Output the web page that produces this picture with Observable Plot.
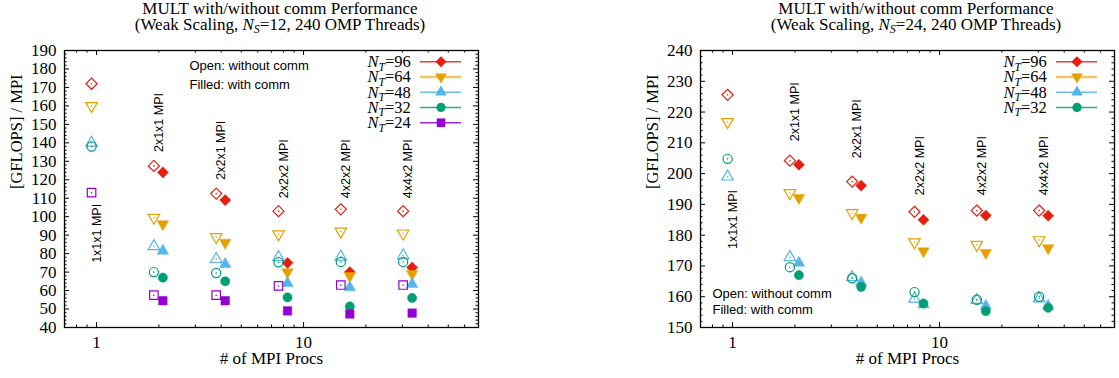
<!DOCTYPE html>
<html>
<head>
<meta charset="utf-8">
<script src="https://cdn.jsdelivr.net/npm/d3@7"></script>
<script src="https://cdn.jsdelivr.net/npm/@observablehq/plot@0.6"></script>
<style>
  body { margin: 0; background: #fff; }
  #wrap { position: relative; width: 1119px; height: 378px; overflow: hidden; }
  .panel { position: absolute; top: 0; width: 483px; }
  .title { height: 34px; font-family: "Liberation Serif", serif; font-size: 17px; line-height: 16px; padding-top: 1px;
           text-align: center; padding-left: 77px; box-sizing: border-box; white-space: nowrap; color: #000; }
  .sub { font-size: 12px; font-style: italic; position: relative; top: 3px; line-height: 0; }
  svg { display: block; }
</style>
</head>
<body>
<div id="wrap"></div>
<script>
// ---------------- data ----------------
const procs = [1, 2, 4, 8, 16, 32];
const seriesNames = ["96", "64", "48", "32", "24"];
const seriesColors = ["#e51e10", "#e69f00", "#56b4e9", "#009e73", "#9400d3"];

// N_S = 12 (left)
const ns12Open96   = [172, 127.5, 112.5, 103, 104, 103];
const ns12Filled96 = [null, 124, 109, 75, 70, 72.5];
const ns12Open64   = [160, 99.5, 89, 90.5, 92, 91];
const ns12Filled64 = [null, 96, 86, 70, 68, 69];
const ns12Open48   = [140, 84, 77, 78, 78.3, 79];
const ns12Filled48 = [null, 81.5, 74.3, 64, 61.7, 63.5];
const ns12Open32   = [138, 70, 69.5, 75.3, 75.5, 75.5];
const ns12Filled32 = [null, 67, 65, 56.3, 51.4, 56];
const ns12Open24   = [113, 57.5, 57.5, 62.5, 63, 63];
const ns12Filled24 = [null, 54.5, 54.5, 49, 47.3, 47.8];

// N_S = 24 (right)
const ns24Open96   = [225.6, 204.2, 197.4, 187.6, 188, 188];
const ns24Filled96 = [null, 202.9, 196.1, 185, 186.4, 186.3];
const ns24Open64   = [216.8, 193.7, 187.2, 177.7, 176.9, 178.4];
const ns24Filled64 = [null, 192.1, 185.7, 174.8, 174.3, 175.8];
const ns24Open48   = [199, 172.8, 166.3, 159.3, 158.9, 159.4];
const ns24Filled48 = [null, 171, 164.6, 157.4, 157, 157];
const ns24Open32   = [204.8, 169.6, 166, 161.5, 159, 160];
const ns24Filled32 = [null, 167, 163.2, 157.8, 155.3, 156.4];

const mpiLabels = ["1x1x1 MPI", "2x1x1 MPI", "2x2x1 MPI", "2x2x2 MPI", "4x2x2 MPI", "4x4x2 MPI"];
const ns12LabelY = [75, 135, 120, 110, 110, 110];
const ns24LabelY = [175.5, 210.5, 205, 193, 193, 193];

const xTicks = [1, 10];
const xMinor = [0.8, 0.9, 2, 3, 4, 5, 6, 7, 8, 9, 20, 30, 40, 50, 60, 70];
const ns12YTicks = d3.range(40, 191, 10);
const ns24YTicks = d3.range(150, 241, 10);

// ---------------- drawing ----------------
const openSym   = ["diamond2", "triangle2", "triangle2", "circle", "square2"];
const filledSym = ["diamond2", "triangle2", "triangle2", "circle", "square"];
const symRot    = [0, 180, 0, 0, 0];
const symR      = [5, 5.5, 5.5, 4.6, 5.4];
const filledR   = [5, 5.5, 5.5, 4.6, 4.8];

const W = 483, H = 344, mL = 64, mR = 5, mT = 16, mB = 51;
const FW = W - mL - mR, FH = H - mT - mB;
const serif = "Liberation Serif, Times New Roman, serif";
const sans = "Liberation Sans, Arial, sans-serif";

function panel(left, ns, yDomain, yTicks, openArr, filledArr, labelY, notePos) {
  const div = document.createElement("div");
  div.className = "panel";
  div.style.left = left + "px";
  div.innerHTML = `<div class="title">MULT with/without comm Performance<br>(Weak Scaling, <i>N</i><span class="sub">S</span>=${ns}, 240 OMP Threads)</div>`;
  document.getElementById("wrap").appendChild(div);

  const yMinor = d3.range(yDomain[0], yDomain[1] + 0.001, 2).filter(v => v % 10 !== 0);
  const marks = [];
  // inward ticks (all four sides)
  marks.push(Plot.tickY(yTicks, {y: d => d, insetRight: FW - 5, stroke: "#000"}));
  marks.push(Plot.tickY(yTicks, {y: d => d, insetLeft: FW - 5, stroke: "#000"}));
  marks.push(Plot.tickY(yMinor, {y: d => d, insetRight: FW - 2.5, stroke: "#000"}));
  marks.push(Plot.tickY(yMinor, {y: d => d, insetLeft: FW - 2.5, stroke: "#000"}));
  marks.push(Plot.tickX(xTicks, {x: d => d, insetTop: FH - 5, stroke: "#000"}));
  marks.push(Plot.tickX(xTicks, {x: d => d, insetBottom: FH - 5, stroke: "#000"}));
  marks.push(Plot.tickX(xMinor, {x: d => d, insetTop: FH - 2.5, stroke: "#000"}));
  marks.push(Plot.tickX(xMinor, {x: d => d, insetBottom: FH - 2.5, stroke: "#000"}));
  marks.push(Plot.frame({stroke: "#000", strokeWidth: 1.3}));
  marks.push(Plot.axisY({ticks: yTicks, tickSize: 0, tickPadding: 8, label: null, fontFamily: serif, fontSize: 17}));
  marks.push(Plot.axisX({ticks: xTicks, tickFormat: d => String(d), tickSize: 0, tickPadding: 8, label: null, fontFamily: serif, fontSize: 17}));
  marks.push(Plot.text(["[GFLOPS] / MPI"], {frameAnchor: "left", dx: -48, rotate: -90, fontFamily: serif, fontSize: 16.5, fill: "#000"}));
  marks.push(Plot.text(["# of MPI Procs"], {frameAnchor: "bottom", dy: 36.5, fontFamily: serif, fontSize: 17, fill: "#000"}));

  // rotated MPI layout labels
  const lab = procs.map((n, j) => ({n, y: labelY[j], t: mpiLabels[j]}));
  marks.push(Plot.text(lab, {x: "n", y: "y", text: "t", rotate: -90, textAnchor: "start", fontFamily: sans, fontSize: 12.5, fill: "#000"}));

  // open / filled notes
  marks.push(Plot.text(["Open: without comm"], {frameAnchor: notePos.anchor, dx: notePos.dx, dy: notePos.dy1, textAnchor: "start", fontFamily: sans, fontSize: 13, fill: "#000"}));
  marks.push(Plot.text(["Filled: with comm"], {frameAnchor: notePos.anchor, dx: notePos.dx, dy: notePos.dy2, textAnchor: "start", fontFamily: sans, fontSize: 13, fill: "#000"}));

  // data points
  openArr.forEach((arr, i) => {
    const col = seriesColors[i];
    const od = procs.map((n, j) => ({n, v: arr[j]})).filter(d => d.v != null);
    const fd = procs.map((n, j) => ({n, v: filledArr[i][j]})).filter(d => d.v != null);
    marks.push(Plot.dot(od, {x: "n", y: "v", dx: -5, symbol: openSym[i], r: symR[i], rotate: symRot[i], stroke: col, fill: "none", strokeWidth: 1.2}));
    marks.push(Plot.dot(od, {x: "n", y: "v", dx: -5, r: 0.8, fill: col}));
    marks.push(Plot.dot(fd, {x: "n", y: "v", dx: 4, symbol: filledSym[i], r: filledR[i], rotate: symRot[i], fill: col, stroke: col, strokeWidth: 0.5}));
  });

  const svg = Plot.plot({
    width: W, height: H,
    marginLeft: mL, marginRight: mR, marginTop: mT, marginBottom: mB,
    x: {type: "log", domain: [0.7, 70]},
    y: {domain: yDomain},
    style: {fontFamily: serif, fontSize: "17px", color: "#000", background: "#fff"},
    marks
  });
  div.appendChild(svg);

  // legend (inside frame, top right)
  const g = d3.select(svg).append("g").attr("font-family", serif).attr("font-size", 16.5);
  const right = W - mR;
  openArr.forEach((arr, i) => {
    const y = mT + 11.7 + 15.25 * i;
    const t = g.append("text").attr("x", right - 67.3).attr("y", y).attr("dy", "0.33em").attr("text-anchor", "end").attr("fill", "#000");
    t.append("tspan").attr("font-style", "italic").text("N");
    t.append("tspan").attr("font-style", "italic").attr("font-size", 11.5).attr("dy", 3.5).text("T");
    t.append("tspan").attr("dy", -3.5).text("=" + seriesNames[i]);
    g.append("line").attr("x1", right - 58).attr("x2", right - 17).attr("y1", y).attr("y2", y)
      .attr("stroke", seriesColors[i]).attr("stroke-width", i === 1 ? 2.5 : 1.4).attr("stroke-opacity", i === 1 ? 0.6 : 0.85);
    const sym = {diamond2: d3.symbolDiamond2, triangle2: d3.symbolTriangle2, circle: d3.symbolCircle, square: d3.symbolSquare}[filledSym[i]];
    g.append("path").attr("d", d3.symbol(sym, Math.PI * filledR[i] * filledR[i])())
      .attr("transform", `translate(${right - 37},${y}) rotate(${symRot[i]})`).attr("fill", seriesColors[i]);
  });
}

panel(0, 12, [40, 190], ns12YTicks,
  [ns12Open96, ns12Open64, ns12Open48, ns12Open32, ns12Open24],
  [ns12Filled96, ns12Filled64, ns12Filled48, ns12Filled32, ns12Filled24],
  ns12LabelY, {anchor: "top-left", dx: 125, dy1: 10.7, dy2: 29.3});

panel(636, 24, [150, 240], ns24YTicks,
  [ns24Open96, ns24Open64, ns24Open48, ns24Open32],
  [ns24Filled96, ns24Filled64, ns24Filled48, ns24Filled32],
  ns24LabelY, {anchor: "bottom-left", dx: 12, dy1: -30, dy2: -14});
</script>
</body>
</html>
